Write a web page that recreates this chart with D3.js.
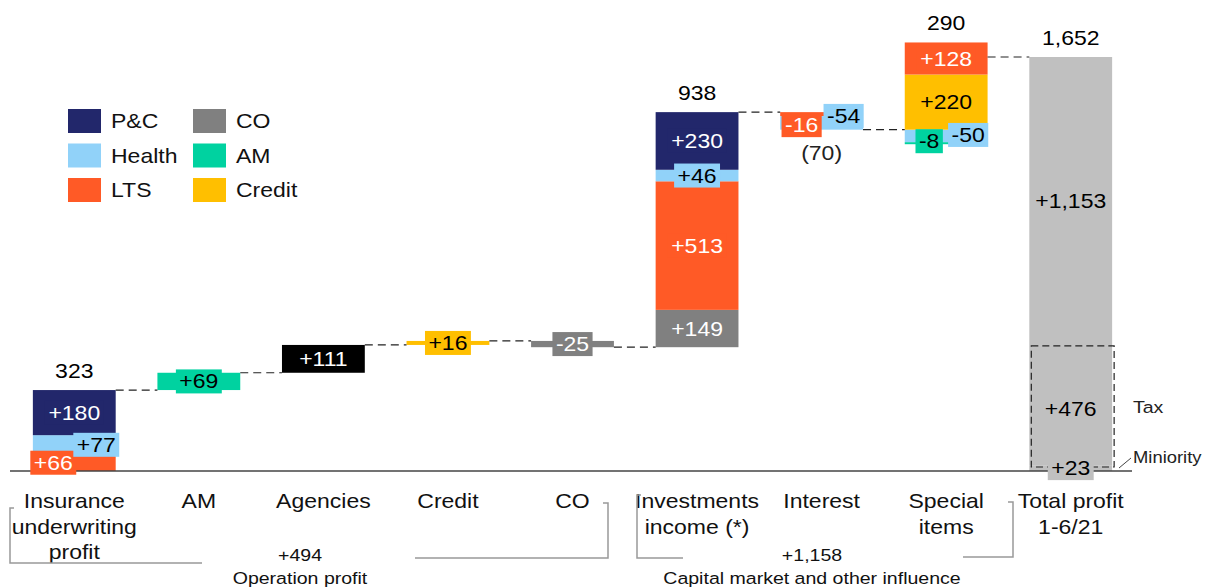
<!DOCTYPE html>
<html lang="en">
<head>
<meta charset="utf-8" />
<title>Profit bridge 1-6/21</title>
<script src="https://d3js.org/d3.v7.min.js"></script>
<style>
  body{margin:0;background:#fff;font-family:"Liberation Sans",Arial,sans-serif;}
  svg{display:block;}
  text{font-family:"Liberation Sans",Arial,sans-serif;}
</style>
</head>
<body>
<svg id="chart" width="1206" height="588"></svg>
<script>
// ---------- DATA ----------
const categories=['Insurance underwriting profit','AM','Agencies','Credit','CO','Investments income (*)','Interest','Special items','Total profit 1-6/21'];
const catLines=[['Insurance','underwriting','profit'],['AM'],['Agencies'],['Credit'],['CO'],['Investments','income (*)'],['Interest'],['Special','items'],['Total profit','1-6/21']];
// segments, bottom-up, per category
const segSeries=[['LTS','Health','P&C'],['AM'],['Agencies'],['Credit'],['CO'],['CO','LTS','Health','P&C'],['LTS','Health'],['Health','AM','Credit','LTS'],['Minority','Tax','Total']];
const segValues=[[66,77,180],[69],[111],[16],[-25],[149,513,46,230],[-16,-54],[-50,-8,220,128],[23,476,1153]];
const topLabels=['323','','','','','938','','290','1,652'];
const bottomLabels=['','','','','','','(70)','',''];
const legendItems=['P&C','Health','LTS','CO','AM','Credit'];
const groupTotals=['+494','+1,158'];
const groupNames=['Operation profit','Capital  market  and other influence'];
const totalMax=1652;

// ---------- STYLE ----------
const colors={'P&C':'#22276b','Health':'#91d2f9','LTS':'#ff5a26','CO':'#808080','AM':'#00d2a0','Credit':'#ffbf00','Agencies':'#000000','Total':'#c0c0c0','Tax':'#c0c0c0','Minority':'#c0c0c0'};
const whiteText=new Set(['P&C','LTS','CO','Agencies']);
// label nudges for crowded segments: key "cat|seg"
const nudge={'0|0':[-21,0],'0|1':[22,0],'6|0':[-20,11],'6|1':[22,-7],'7|0':[22,-1],'7|1':[-17,-2],'8|1':[0,3]};
const SX=1.15; // horizontal stretch of the source typography

const svg=d3.select('#chart');
const x=d3.scaleBand().domain(categories).range([12,1133]).paddingInner(0.335).paddingOuter(0.1675);
const y=d3.scaleLinear().domain([0,totalMax]).range([471,57]);
const bw=x.bandwidth();
const fmt=v=>(v>0?'+':'-')+d3.format(',')(Math.abs(v));

// text helper: stretched text anchored at (cx,cy)
function addText(parent,cx,cy,str,size,anchor,fill){
  const g=parent.append('g').attr('transform',`translate(${cx},${cy}) scale(${SX},1)`);
  const t=g.append('text').attr('text-anchor',anchor||'middle').attr('font-size',size)
    .attr('fill',fill||'#111').text(str);
  return {g,t};
}

// ---------- COMPUTE LAYOUT ----------
let level=0;
const bars=[],labels=[],connectors=[];
categories.forEach((c,i)=>{
  const last=i===categories.length-1;
  const start=last?0:level;
  let pos=start,neg=start,sum=0;
  segValues[i].forEach((v,j)=>{
    let y0,y1;
    if(v>=0){y0=pos;y1=pos+v;pos=y1;}else{y0=neg;y1=neg+v;neg=y1;}
    sum+=v;
    bars.push({cat:c,i,j,series:segSeries[i][j],v,lo:Math.min(y0,y1),hi:Math.max(y0,y1)});
  });
  const end=start+sum;
  if(!last) connectors.push({i,val:end});
  level=end;
  labels.push({i,top:Math.max(pos,start),bot:Math.min(neg,start)});
});

// ---------- BARS ----------
svg.append('g').selectAll('rect').data(bars).join('rect')
  .attr('x',d=>x(d.cat)).attr('width',bw)
  .attr('y',d=>y(d.hi)).attr('height',d=>Math.max(1.5,y(d.lo)-y(d.hi)))
  .attr('fill',d=>colors[d.series]);

// dashed outline for tax + minority
svg.append('rect')
  .attr('x',x(categories[8])+2).attr('width',bw)
  .attr('y',y(23+476)).attr('height',y(0)-y(23+476)-4)
  .attr('fill','none').attr('stroke','#222').attr('stroke-width',1.2).attr('stroke-dasharray','7,4');

// connectors
svg.append('g').selectAll('line').data(connectors).join('line')
  .attr('x1',d=>x(categories[d.i])+bw).attr('x2',d=>x(categories[d.i+1]))
  .attr('y1',d=>y(d.val)).attr('y2',d=>y(d.val))
  .attr('stroke','#222').attr('stroke-width',1.2).attr('stroke-dasharray','8,5');

// baseline
svg.append('line').attr('x1',10).attr('x2',1132).attr('y1',y(0)).attr('y2',y(0))
  .attr('stroke','#444').attr('stroke-width',1.5);

// ---------- SEGMENT LABELS ----------
const gLab=svg.append('g');
bars.forEach(d=>{
  const n=nudge[d.i+'|'+d.j]||[0,0];
  const cx=x(d.cat)+bw/2+n[0];
  const cy=y((d.lo+d.hi)/2)+n[1];
  const {g,t}=addText(gLab,cx,cy,fmt(d.v),20,'middle',whiteText.has(d.series)?'#fff':'#000');
  t.attr('dy','0.35em');
  const bb=t.node().getBBox();
  g.insert('rect','text').attr('x',bb.x-3).attr('width',bb.width+6)
    .attr('y',-12).attr('height',24).attr('fill',colors[d.series]);
});

// top / bottom totals
labels.forEach(l=>{
  const cx=x(categories[l.i])+bw/2;
  if(topLabels[l.i]) addText(svg,cx,y(l.top)-12,topLabels[l.i],20,'middle','#000');
  if(bottomLabels[l.i]) addText(svg,cx,y(l.bot)+30,bottomLabels[l.i],20,'middle','#222');
});

// Tax / Minority notes
addText(svg,1133,y(272)+10,'Tax',17,'start','#222');
addText(svg,1133,463,'Miniority',16,'start','#222');
svg.append('line').attr('x1',1119).attr('y1',468).attr('x2',1131).attr('y2',458).attr('stroke','#444');

// ---------- CATEGORY LABELS ----------
catLines.forEach((lines,i)=>{
  lines.forEach((s,k)=>addText(svg,x(categories[i])+bw/2,508+k*25.5,s,20,'middle','#111'));
});

// ---------- BRACKETS ----------
const br=svg.append('g').attr('fill','none').attr('stroke','#999').attr('stroke-width',1.5);
br.append('path').attr('d','M14,508 L10,508 L10,563 L202,563');
br.append('path').attr('d','M415,558 L608,558 L608,503 L603,503');
br.append('path').attr('d','M641,495 L637,495 L637,558 L683,558');
br.append('path').attr('d','M963,557 L1013,557 L1013,502 L1008,502');
[[300,groupTotals[0],groupNames[0]],[812,groupTotals[1],groupNames[1]]].forEach(([cx,a,b])=>{
  addText(svg,cx,561,a,17,'middle','#111');
  addText(svg,cx,584,b,17,'middle','#111');
});

// ---------- LEGEND ----------
const leg=svg.append('g');
legendItems.forEach((s,k)=>{
  const col=Math.floor(k/3),row=k%3;
  const lx=68+col*125,ly=109+row*34.5;
  leg.append('rect').attr('x',lx).attr('y',ly).attr('width',33).attr('height',24).attr('fill',colors[s]);
  addText(leg,lx+43,ly+19,s,20,'start','#111');
});
</script>
</body>
</html>
